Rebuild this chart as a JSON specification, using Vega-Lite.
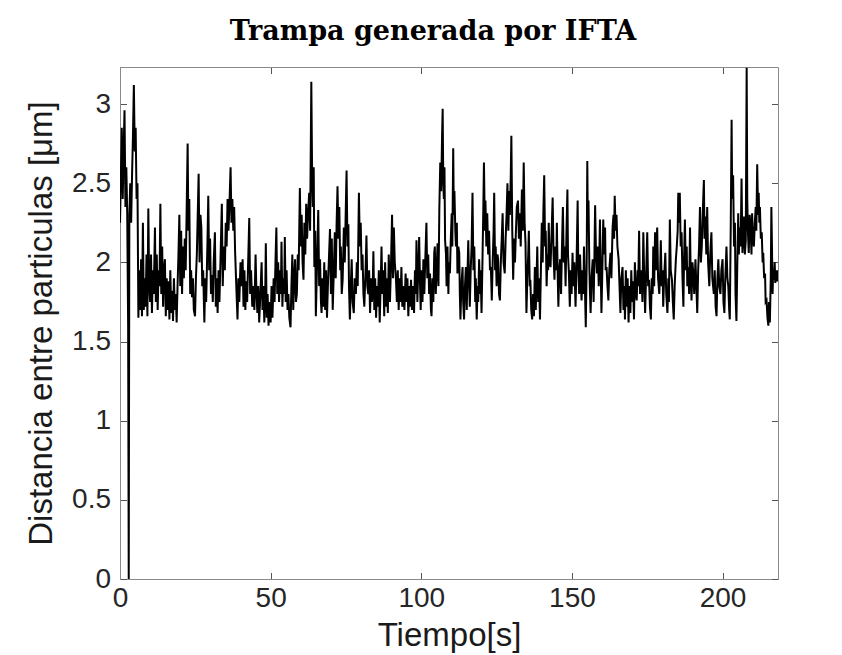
{
"$schema": "https://vega.github.io/schema/vega-lite/v6.json",
"width": 658, "height": 512,
"autosize": "none",
"padding": {"left": 120, "top": 67, "right": 64, "bottom": 76},
"background": "white",
"title": {"text": "Trampa generada por IFTA", "font": "DejaVu Serif", "fontSize": 27, "fontWeight": "bold", "color": "black", "anchor": "middle", "dx": -16, "dy": 28, "offset": 28, "baseline": "alphabetic"},
"data": {"values": [
{"t":0,"d":2.25},{"t":0.3,"d":2.55},{"t":0.6,"d":2.85},{"t":0.9,"d":2.40},{"t":1.2,"d":2.70},{"t":1.5,"d":2.96},{"t":1.8,"d":2.35},{"t":2.1,"d":2.60},{"t":2.4,"d":2.30},{"t":2.7,"d":1.60},{"t":2.9,"d":0},{"t":3.1,"d":2.30},{"t":3.4,"d":2.50},{"t":3.7,"d":2.25},{"t":4.0,"d":2.55},{"t":4.3,"d":2.80},{"t":4.6,"d":3.12},{"t":4.9,"d":2.70},{"t":5.2,"d":2.85},{"t":5.5,"d":2.40},{"t":5.8,"d":2.50},{"t":6.1,"d":1.65},{"t":6.4,"d":1.95},{"t":6.7,"d":1.70},{"t":7.0,"d":2.02},{"t":7.3,"d":1.66},{"t":7.6,"d":2.25},{"t":7.9,"d":1.70},
{"t":8.2,"d":1.90},{"t":8.5,"d":1.72},{"t":8.8,"d":2.05},{"t":9.1,"d":1.66},{"t":9.4,"d":2.34},{"t":9.7,"d":1.85},{"t":10.0,"d":1.75},{"t":10.3,"d":2.05},{"t":10.6,"d":1.68},{"t":10.9,"d":1.95},{"t":11.2,"d":1.80},{"t":11.6,"d":2.22},{"t":11.9,"d":1.75},{"t":12.2,"d":2.05},{"t":12.5,"d":1.70},{"t":12.8,"d":1.95},{"t":13.1,"d":1.85},{"t":13.4,"d":2.37},{"t":13.7,"d":1.80},{"t":14.0,"d":2.10},{"t":14.3,"d":1.72},{"t":14.6,"d":1.95},{"t":14.9,"d":2.02},{"t":15.2,"d":1.66},{"t":15.5,"d":1.90},{"t":15.8,"d":1.70},{"t":16.1,"d":1.88},{"t":16.4,"d":1.64},{"t":16.7,"d":1.95},{"t":17.0,"d":1.68},{"t":17.3,"d":1.82},{"t":17.6,"d":1.63},{"t":17.9,"d":1.90},{"t":18.2,"d":1.70},{"t":18.5,"d":1.80},{"t":18.8,"d":1.62},{"t":19.1,"d":1.85},{"t":19.4,"d":2.05},{"t":19.7,"d":2.30},
{"t":20.0,"d":1.85},{"t":20.3,"d":2.20},{"t":20.6,"d":1.80},{"t":20.9,"d":2.10},{"t":21.2,"d":1.90},{"t":21.5,"d":2.15},{"t":21.8,"d":1.95},{"t":22.1,"d":2.30},{"t":22.45,"d":2.75},{"t":22.7,"d":2.20},{"t":23.0,"d":2.40},{"t":23.3,"d":1.80},{"t":23.6,"d":1.95},{"t":23.9,"d":1.78},{"t":24.2,"d":1.90},{"t":24.5,"d":1.70},{"t":24.9,"d":1.66},{"t":25.2,"d":1.90},{"t":25.5,"d":2.05},{"t":25.8,"d":2.30},{"t":26.1,"d":2.56},{"t":26.4,"d":2.00},{"t":26.7,"d":2.30},{"t":27.0,"d":2.22},{"t":27.3,"d":1.85},{"t":27.6,"d":1.95},{"t":28.0,"d":1.62},{"t":28.3,"d":1.90},{"t":28.6,"d":1.75},{"t":29.0,"d":2.10},{"t":29.3,"d":2.42},
{"t":29.6,"d":1.95},{"t":29.9,"d":2.15},{"t":30.2,"d":1.80},{"t":30.5,"d":1.92},{"t":30.8,"d":1.75},{"t":31.1,"d":2.00},{"t":31.5,"d":2.19},{"t":31.8,"d":1.72},{"t":32.1,"d":1.90},{"t":32.4,"d":1.68},{"t":32.7,"d":1.95},{"t":33.0,"d":1.75},{"t":33.4,"d":2.05},{"t":33.8,"d":2.37},{"t":34.1,"d":1.85},{"t":34.4,"d":2.10},{"t":34.8,"d":1.95},{"t":35.1,"d":2.25},{"t":35.4,"d":2.10},{"t":35.7,"d":2.40},{"t":36.0,"d":2.20},{"t":36.3,"d":2.35},{"t":36.7,"d":2.60},{"t":37.0,"d":2.25},{"t":37.3,"d":2.40},{"t":37.6,"d":2.20},{"t":37.9,"d":2.35},{"t":38.2,"d":2.07},{"t":38.6,"d":1.85},{"t":39.0,"d":1.64},{"t":39.3,"d":1.90},{"t":39.6,"d":1.75},
{"t":40.0,"d":2.00},{"t":40.4,"d":1.85},{"t":40.7,"d":2.02},{"t":41.0,"d":1.72},{"t":41.3,"d":1.95},{"t":41.6,"d":1.70},{"t":41.9,"d":1.88},{"t":42.2,"d":1.75},{"t":42.6,"d":2.05},{"t":42.9,"d":2.28},{"t":43.2,"d":1.80},{"t":43.5,"d":1.95},{"t":43.9,"d":1.72},{"t":44.2,"d":1.85},{"t":44.6,"d":1.70},{"t":45.0,"d":2.05},{"t":45.3,"d":1.80},{"t":45.6,"d":1.68},{"t":45.9,"d":1.85},{"t":46.2,"d":1.62},{"t":46.6,"d":1.80},{"t":47.0,"d":2.00},{"t":47.3,"d":1.70},{"t":47.6,"d":1.85},{"t":47.9,"d":1.62},{"t":48.2,"d":1.80},{"t":48.4,"d":2.12},{"t":48.7,"d":1.65},{"t":49.0,"d":1.80},{"t":49.3,"d":1.60},{"t":49.6,"d":1.75},{"t":50.0,"d":1.62},{"t":50.3,"d":1.85},{"t":50.6,"d":1.65},{"t":51.0,"d":1.90},{"t":51.3,"d":1.75},{"t":51.6,"d":2.00},{"t":51.9,"d":2.22},
{"t":52.2,"d":1.80},{"t":52.5,"d":2.00},{"t":52.8,"d":1.75},{"t":53.1,"d":1.95},{"t":53.4,"d":1.80},{"t":53.6,"d":2.13},{"t":53.9,"d":1.72},{"t":54.2,"d":1.90},{"t":54.5,"d":1.80},{"t":54.7,"d":2.16},{"t":55.0,"d":1.75},{"t":55.3,"d":1.95},{"t":55.6,"d":1.70},{"t":55.9,"d":1.80},{"t":56.2,"d":1.65},{"t":56.6,"d":1.59},{"t":56.9,"d":1.85},{"t":57.2,"d":2.05},{"t":57.5,"d":1.70},{"t":57.8,"d":1.90},{"t":58.1,"d":2.02},{"t":58.4,"d":1.75},{"t":58.7,"d":1.80},{"t":59.0,"d":2.05},{"t":59.3,"d":1.95},{"t":59.7,"d":2.47},{"t":60.0,"d":2.10},{"t":60.3,"d":2.30},{"t":60.6,"d":2.00},{"t":60.9,"d":1.89},{"t":61.2,"d":2.25},{"t":61.5,"d":2.05},{"t":61.8,"d":2.37},{"t":62.1,"d":2.15},{"t":62.4,"d":2.30},{"t":62.8,"d":2.44},{"t":63.1,"d":2.20},{"t":63.5,"d":3.14},{"t":63.8,"d":2.50},{"t":64.0,"d":2.35},{"t":64.3,"d":2.60},{"t":64.5,"d":1.97},{"t":64.8,"d":2.20},{"t":65.0,"d":1.66},
{"t":65.3,"d":1.90},{"t":65.8,"d":2.33},{"t":66.1,"d":1.85},{"t":66.4,"d":2.02},{"t":66.7,"d":1.75},{"t":66.9,"d":1.68},{"t":67.2,"d":1.90},{"t":67.5,"d":1.72},{"t":67.8,"d":2.00},{"t":68.1,"d":1.70},{"t":68.4,"d":1.95},{"t":68.7,"d":1.65},{"t":69.0,"d":1.85},{"t":69.3,"d":2.00},{"t":69.7,"d":2.21},{"t":70.0,"d":1.80},{"t":70.3,"d":2.15},{"t":70.6,"d":1.70},{"t":70.9,"d":1.90},{"t":71.3,"d":2.19},{"t":71.6,"d":1.90},{"t":71.9,"d":2.25},{"t":72.2,"d":2.48},{"t":72.5,"d":2.15},{"t":72.8,"d":2.35},{"t":73.1,"d":1.95},{"t":73.3,"d":2.10},{"t":73.6,"d":1.80},{"t":73.9,"d":1.89},{"t":74.3,"d":2.22},{"t":74.6,"d":2.00},{"t":74.9,"d":2.30},{"t":75.2,"d":2.58},{"t":75.5,"d":2.10},{"t":75.8,"d":2.24},{"t":76.0,"d":1.85},{"t":76.3,"d":1.64},{"t":76.6,"d":1.85},{"t":76.9,"d":2.02},{"t":77.2,"d":1.75},{"t":77.6,"d":1.68},{"t":77.9,"d":1.90},{"t":78.3,"d":1.80},{"t":78.6,"d":2.00},{"t":78.9,"d":1.85},{"t":79.3,"d":2.44},{"t":79.6,"d":2.10},{"t":79.9,"d":2.25},
{"t":80.2,"d":1.95},{"t":80.5,"d":2.05},{"t":80.8,"d":1.80},{"t":81.1,"d":1.72},{"t":81.5,"d":1.95},{"t":81.8,"d":2.17},{"t":82.1,"d":1.85},{"t":82.4,"d":1.80},{"t":82.7,"d":1.95},{"t":83.0,"d":1.68},{"t":83.3,"d":1.90},{"t":83.6,"d":1.75},{"t":83.9,"d":1.85},{"t":84.1,"d":2.07},{"t":84.4,"d":1.70},{"t":84.7,"d":1.90},{"t":85.0,"d":1.65},{"t":85.3,"d":1.85},{"t":85.6,"d":1.72},{"t":85.9,"d":1.95},{"t":86.2,"d":1.62},{"t":86.5,"d":1.85},{"t":86.8,"d":2.10},{"t":87.1,"d":1.80},{"t":87.4,"d":1.95},{"t":87.7,"d":1.66},{"t":88.0,"d":2.00},{"t":88.3,"d":1.72},{"t":88.6,"d":1.90},{"t":88.9,"d":1.68},{"t":89.2,"d":2.05},{"t":89.6,"d":1.75},{"t":89.9,"d":1.95},{"t":90.3,"d":2.30},{"t":90.6,"d":1.90},{"t":90.9,"d":2.22},{"t":91.2,"d":2.00},{"t":91.6,"d":1.89},
{"t":91.9,"d":1.75},{"t":92.2,"d":1.95},{"t":92.5,"d":1.70},{"t":92.8,"d":1.90},{"t":93.1,"d":1.75},{"t":93.4,"d":1.97},{"t":93.7,"d":1.72},{"t":94.0,"d":1.85},{"t":94.4,"d":1.70},{"t":94.8,"d":1.93},{"t":95.1,"d":1.75},{"t":95.4,"d":1.90},{"t":95.7,"d":1.66},{"t":96.0,"d":1.85},{"t":96.3,"d":1.72},{"t":96.6,"d":1.89},{"t":96.9,"d":1.70},{"t":97.3,"d":1.85},{"t":97.6,"d":1.68},{"t":97.9,"d":1.95},{"t":98.2,"d":1.80},{"t":98.4,"d":2.14},{"t":98.7,"d":1.75},{"t":99.0,"d":1.95},{"t":99.3,"d":2.16},{"t":99.6,"d":1.85},{"t":99.8,"d":1.70},{"t":100.1,"d":1.95},{"t":100.4,"d":1.75},{"t":100.7,"d":2.02},{"t":101.0,"d":1.80},{"t":101.3,"d":2.00},{"t":101.7,"d":2.25},{"t":102.0,"d":1.90},{"t":102.3,"d":2.05},{"t":102.6,"d":1.80},{"t":102.9,"d":1.93},{"t":103.2,"d":1.70},{"t":103.4,"d":1.66},{"t":103.7,"d":1.90},{"t":104.0,"d":1.75},{"t":104.3,"d":2.06},{"t":104.5,"d":2.10},{"t":104.8,"d":1.80},{"t":105.1,"d":1.95},{"t":105.4,"d":2.12},{"t":105.7,"d":1.85},{"t":106.0,"d":2.35},{"t":106.3,"d":2.63},{"t":106.6,"d":2.45},{"t":106.9,"d":2.80},{"t":107.1,"d":2.97},
{"t":107.3,"d":2.50},{"t":107.5,"d":2.40},{"t":107.7,"d":2.60},{"t":107.9,"d":2.14},{"t":108.2,"d":2.05},{"t":108.4,"d":1.85},{"t":108.7,"d":2.10},{"t":109.0,"d":1.80},{"t":109.2,"d":2.00},{"t":109.5,"d":1.93},{"t":109.8,"d":2.15},{"t":110.1,"d":2.31},{"t":110.3,"d":2.10},{"t":110.6,"d":2.72},{"t":110.8,"d":2.30},{"t":111.0,"d":2.45},{"t":111.3,"d":2.20},{"t":111.5,"d":2.10},{"t":111.8,"d":2.25},{"t":112.0,"d":1.93},{"t":112.3,"d":2.10},{"t":112.6,"d":2.06},{"t":112.8,"d":1.80},{"t":113.0,"d":1.64},{"t":113.3,"d":1.85},{"t":113.7,"d":1.97},{"t":113.9,"d":1.75},{"t":114.2,"d":1.64},{"t":114.5,"d":1.85},{"t":114.8,"d":1.97},{"t":115.1,"d":1.70},{"t":115.3,"d":1.90},{"t":115.6,"d":2.14},{"t":115.9,"d":1.85},{"t":116.1,"d":1.72},{"t":116.4,"d":1.95},{"t":116.7,"d":2.10},{"t":117.0,"d":2.44},{"t":117.3,"d":1.95},{"t":117.6,"d":2.10},{"t":117.9,"d":1.75},{"t":118.1,"d":1.90},{"t":118.4,"d":1.64},{"t":118.7,"d":1.85},{"t":118.9,"d":1.75},{"t":119.2,"d":2.02},{"t":119.5,"d":1.80},{"t":119.7,"d":1.95},{"t":120.0,"d":1.68},
{"t":120.3,"d":2.00},{"t":120.6,"d":2.35},{"t":120.8,"d":2.63},{"t":121.1,"d":2.20},{"t":121.3,"d":2.39},{"t":121.6,"d":2.10},{"t":121.9,"d":2.31},{"t":122.2,"d":2.05},{"t":122.5,"d":2.20},{"t":122.8,"d":1.95},{"t":123.1,"d":1.97},{"t":123.4,"d":1.76},{"t":123.7,"d":2.00},{"t":124.0,"d":2.20},{"t":124.2,"d":2.44},{"t":124.5,"d":1.95},{"t":124.7,"d":2.10},{"t":125.0,"d":1.85},{"t":125.3,"d":2.05},{"t":125.5,"d":2.02},{"t":125.8,"d":1.80},{"t":126.1,"d":1.76},{"t":126.4,"d":2.00},{"t":126.7,"d":2.15},{"t":127.0,"d":2.31},{"t":127.3,"d":2.00},{"t":127.7,"d":1.93},{"t":128.0,"d":2.15},{"t":128.3,"d":2.30},{"t":128.6,"d":2.50},{"t":128.9,"d":2.20},{"t":129.2,"d":2.45},{"t":129.4,"d":2.30},{"t":129.7,"d":2.55},{"t":129.9,"d":2.80},{"t":130.2,"d":2.20},{"t":130.5,"d":1.89},{"t":130.8,"d":2.15},{"t":131.1,"d":2.00},{"t":131.4,"d":2.19},{"t":131.7,"d":2.35},{"t":132.1,"d":2.39},{"t":132.4,"d":2.15},{"t":132.7,"d":2.31},{"t":133.0,"d":2.10},{"t":133.4,"d":2.46},{"t":133.7,"d":2.20},{"t":134.0,"d":2.63},{"t":134.3,"d":2.25},{"t":134.6,"d":2.12},{"t":134.9,"d":1.68},
{"t":135.2,"d":1.90},{"t":135.5,"d":2.05},{"t":135.7,"d":2.20},{"t":136.0,"d":1.85},{"t":136.2,"d":1.89},{"t":136.5,"d":1.70},{"t":136.8,"d":1.64},{"t":137.1,"d":1.80},{"t":137.4,"d":1.66},{"t":137.7,"d":1.97},{"t":138.0,"d":1.70},{"t":138.2,"d":1.85},{"t":138.5,"d":2.10},{"t":138.8,"d":1.75},{"t":139.1,"d":1.90},{"t":139.4,"d":1.64},{"t":139.7,"d":1.95},{"t":140.0,"d":2.25},{"t":140.3,"d":2.00},{"t":140.5,"d":2.30},{"t":140.8,"d":2.55},{"t":141.1,"d":2.10},{"t":141.3,"d":2.20},{"t":141.6,"d":1.85},{"t":141.9,"d":2.05},{"t":142.1,"d":1.95},{"t":142.3,"d":2.25},{"t":142.6,"d":2.00},{"t":142.9,"d":1.97},{"t":143.2,"d":2.15},{"t":143.6,"d":2.41},{"t":143.9,"d":2.05},{"t":144.2,"d":1.89},{"t":144.5,"d":2.10},{"t":144.8,"d":1.95},{"t":145.0,"d":2.25},{"t":145.3,"d":1.90},{"t":145.5,"d":1.72},{"t":145.8,"d":1.95},{"t":146.1,"d":2.02},{"t":146.4,"d":1.80},{"t":146.7,"d":2.10},{"t":147.0,"d":2.35},{"t":147.3,"d":2.00},{"t":147.6,"d":2.10},{"t":147.9,"d":1.85},{"t":148.2,"d":2.20},{"t":148.5,"d":2.46},{"t":148.7,"d":2.05},{"t":149.0,"d":1.93},{"t":149.3,"d":1.72},{"t":149.6,"d":1.95},{"t":149.9,"d":1.80},{"t":150.2,"d":2.06},
{"t":150.5,"d":1.85},{"t":150.8,"d":2.00},{"t":151.2,"d":1.72},{"t":151.5,"d":1.95},{"t":151.9,"d":2.39},{"t":152.1,"d":2.00},{"t":152.4,"d":1.80},{"t":152.7,"d":2.05},{"t":153.0,"d":1.85},{"t":153.2,"d":1.76},{"t":153.5,"d":1.95},{"t":153.8,"d":1.80},{"t":154.0,"d":2.10},{"t":154.3,"d":1.85},{"t":154.6,"d":1.59},{"t":154.9,"d":2.00},{"t":155.1,"d":2.64},{"t":155.3,"d":2.20},{"t":155.5,"d":2.39},{"t":155.8,"d":1.95},{"t":156.0,"d":1.80},{"t":156.2,"d":1.68},{"t":156.5,"d":1.90},{"t":156.9,"d":2.02},{"t":157.2,"d":1.75},{"t":157.4,"d":1.95},{"t":157.7,"d":2.36},{"t":158.0,"d":2.05},{"t":158.3,"d":1.93},{"t":158.6,"d":2.10},{"t":158.9,"d":1.85},{"t":159.1,"d":2.05},{"t":159.3,"d":2.27},{"t":159.6,"d":1.90},{"t":159.8,"d":1.68},{"t":160.1,"d":1.95},{"t":160.4,"d":2.27},{"t":160.7,"d":2.05},{"t":161.0,"d":2.22},{"t":161.2,"d":1.95},{"t":161.5,"d":1.97},{"t":161.8,"d":1.85},{"t":162.1,"d":1.76},{"t":162.4,"d":1.95},{"t":162.8,"d":2.06},{"t":163.1,"d":1.90},{"t":163.5,"d":2.22},{"t":163.8,"d":2.30},{"t":164.0,"d":2.15},{"t":164.2,"d":2.42},{"t":164.5,"d":2.20},{"t":164.8,"d":2.30},{"t":165.1,"d":2.10},{"t":165.5,"d":2.02},{"t":165.8,"d":1.85},{"t":166.1,"d":1.68},
{"t":166.4,"d":1.90},{"t":166.8,"d":1.97},{"t":167.1,"d":1.70},{"t":167.4,"d":1.85},{"t":167.6,"d":1.64},{"t":167.9,"d":1.95},{"t":168.2,"d":1.72},{"t":168.5,"d":1.90},{"t":168.8,"d":1.62},{"t":169.1,"d":1.85},{"t":169.4,"d":1.68},{"t":169.7,"d":1.95},{"t":170.0,"d":1.75},{"t":170.3,"d":1.88},{"t":170.6,"d":1.64},{"t":170.9,"d":2.00},{"t":171.2,"d":1.80},{"t":171.5,"d":1.76},{"t":171.8,"d":1.95},{"t":172.0,"d":1.85},{"t":172.3,"d":2.20},{"t":172.6,"d":1.80},{"t":172.9,"d":1.95},{"t":173.1,"d":1.93},{"t":173.4,"d":1.75},{"t":173.7,"d":2.19},{"t":174.0,"d":1.90},{"t":174.3,"d":1.68},{"t":174.6,"d":1.90},{"t":175.0,"d":2.19},{"t":175.3,"d":1.85},{"t":175.6,"d":1.89},{"t":175.9,"d":1.72},{"t":176.2,"d":1.64},{"t":176.5,"d":1.90},{"t":176.8,"d":1.80},{"t":177.0,"d":2.10},{"t":177.3,"d":1.85},{"t":177.6,"d":2.19},{"t":177.9,"d":1.95},{"t":178.3,"d":2.22},{"t":178.6,"d":1.90},{"t":179.0,"d":1.80},{"t":179.3,"d":1.95},{"t":179.5,"d":2.14},{"t":179.8,"d":1.85},{"t":180.1,"d":1.95},{"t":180.3,"d":1.72},{"t":180.6,"d":1.90},{"t":181.0,"d":2.06},{"t":181.3,"d":1.80},{"t":181.7,"d":1.68},{"t":182.0,"d":1.90},{"t":182.2,"d":1.75},{"t":182.5,"d":2.27},{"t":182.8,"d":1.95},{"t":183.2,"d":1.89},{"t":183.5,"d":1.75},{"t":183.8,"d":1.64},{"t":184.1,"d":1.85},{"t":184.5,"d":2.02},{"t":184.8,"d":2.10},
{"t":185.1,"d":2.20},{"t":185.3,"d":2.44},{"t":185.6,"d":2.25},{"t":185.8,"d":2.44},{"t":186.1,"d":2.10},{"t":186.4,"d":2.19},{"t":186.7,"d":1.90},{"t":187.0,"d":1.72},{"t":187.2,"d":2.00},{"t":187.5,"d":2.27},{"t":187.8,"d":1.95},{"t":188.1,"d":2.10},{"t":188.3,"d":1.85},{"t":188.6,"d":1.97},{"t":188.9,"d":1.80},{"t":189.2,"d":2.22},{"t":189.4,"d":1.95},{"t":189.7,"d":1.76},{"t":190.0,"d":2.00},{"t":190.3,"d":1.93},{"t":190.6,"d":1.80},{"t":191.0,"d":2.02},{"t":191.3,"d":1.85},{"t":191.6,"d":1.68},{"t":191.9,"d":1.95},{"t":192.2,"d":2.10},{"t":192.5,"d":2.35},{"t":192.8,"d":2.00},{"t":193.1,"d":2.10},{"t":193.4,"d":2.30},{"t":193.8,"d":2.52},{"t":194.0,"d":2.15},{"t":194.3,"d":2.29},{"t":194.6,"d":2.05},{"t":194.9,"d":2.35},{"t":195.2,"d":2.00},{"t":195.6,"d":1.85},{"t":195.9,"d":2.05},{"t":196.3,"d":2.19},{"t":196.6,"d":1.90},{"t":197.1,"d":1.80},{"t":197.4,"d":1.95},{"t":197.7,"d":1.72},{"t":198.0,"d":1.66},{"t":198.3,"d":1.90},{"t":198.6,"d":2.02},{"t":198.9,"d":1.85},{"t":199.3,"d":1.80},{"t":199.6,"d":1.95},{"t":200.0,"d":2.02},{"t":200.3,"d":1.75},{"t":200.6,"d":1.68},{"t":200.9,"d":1.90},{"t":201.3,"d":2.10},{"t":201.6,"d":1.90},{"t":201.9,"d":1.85},{"t":202.2,"d":1.70},{"t":202.4,"d":1.64},{"t":202.7,"d":2.20},{"t":203.0,"d":2.90},
{"t":203.2,"d":2.40},{"t":203.5,"d":2.55},{"t":203.8,"d":2.10},{"t":204.1,"d":2.25},{"t":204.3,"d":1.80},{"t":204.6,"d":1.63},{"t":204.9,"d":2.00},{"t":205.2,"d":2.31},{"t":205.4,"d":2.05},{"t":205.7,"d":2.22},{"t":206.0,"d":2.10},{"t":206.3,"d":2.53},{"t":206.6,"d":2.06},{"t":206.9,"d":2.20},{"t":207.1,"d":2.29},{"t":207.4,"d":2.05},{"t":207.7,"d":2.14},{"t":208.0,"d":3.23},{"t":208.2,"d":2.40},{"t":208.4,"d":2.20},{"t":208.7,"d":2.06},{"t":209.0,"d":2.30},{"t":209.3,"d":2.22},{"t":209.6,"d":2.05},{"t":209.8,"d":2.31},{"t":210.1,"d":2.15},{"t":210.4,"d":2.10},{"t":210.7,"d":2.25},{"t":211.0,"d":2.35},{"t":211.2,"d":2.20},{"t":211.5,"d":2.62},{"t":211.8,"d":2.30},{"t":212.0,"d":2.44},{"t":212.2,"d":2.25},{"t":212.4,"d":2.35},{"t":212.7,"d":2.15},{"t":213.0,"d":2.19},{"t":213.3,"d":2.00},{"t":213.5,"d":2.06},{"t":213.8,"d":1.90},{"t":214.1,"d":1.93},{"t":214.3,"d":1.75},{"t":214.6,"d":1.76},{"t":214.9,"d":1.65},{"t":215.2,"d":1.60},{"t":215.4,"d":1.75},{"t":215.7,"d":1.62},{"t":216.0,"d":1.90},{"t":216.2,"d":2.35},{"t":216.4,"d":2.10},{"t":216.6,"d":1.80},{"t":216.8,"d":1.95},{"t":217.0,"d":1.89},{"t":217.3,"d":2.00},{"t":217.5,"d":1.87},{"t":217.8,"d":1.95},{"t":218.1,"d":1.88},{"t":218.4,"d":1.95}
]},
"layer": [
{"mark": {"type": "line", "color": "black", "strokeWidth": 2, "clip": true},
 "encoding": {
  "x": {"field": "t", "type": "quantitative", "scale": {"domain": [0, 218.4], "nice": false, "zero": false},
        "axis": {"values": [0, 50, 100, 150, 200], "title": "Tiempo[s]", "labelPadding": 12, "titlePadding": 7}},
  "y": {"field": "d", "type": "quantitative", "scale": {"domain": [0, 3.234], "nice": false},
        "axis": {"values": [0, 0.5, 1, 1.5, 2, 2.5, 3], "format": "~g", "title": "Distancia entre particulas [μm]", "labelPadding": 16, "titlePadding": 13}}
 }},
{"mark": {"type": "line", "opacity": 0},
 "encoding": {
  "x": {"field": "t", "type": "quantitative", "scale": {"domain": [0, 218.4], "nice": false, "zero": false},
        "axis": {"orient": "top", "values": [0, 50, 100, 150, 200], "labels": false, "title": null}},
  "y": {"field": "d", "type": "quantitative", "scale": {"domain": [0, 3.234], "nice": false},
        "axis": {"orient": "right", "values": [0, 0.5, 1, 1.5, 2, 2.5, 3], "labels": false, "title": null}}
 }}
],
"resolve": {"axis": {"x": "independent", "y": "independent"}},
"config": {
 "view": {"stroke": null},
 "axis": {"domainColor": "#8a8a8a", "domainWidth": 1, "tickColor": "#555555", "tickSize": -6.5, "tickWidth": 1, "grid": false, "labelFlush": false,
          "labelFont": "Liberation Sans", "labelFontSize": 28, "labelColor": "#262626",
          "titleFont": "Liberation Sans", "titleFontSize": 33, "titleFontWeight": "normal", "titleColor": "#1a1a1a"}
}
}
